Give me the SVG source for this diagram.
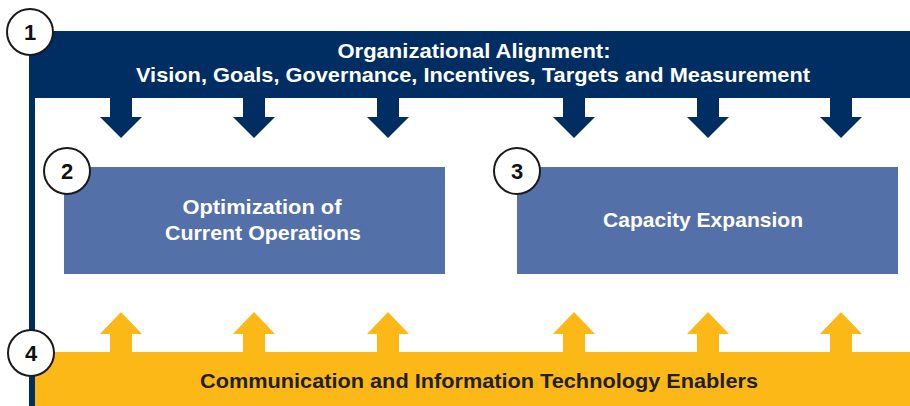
<svg xmlns="http://www.w3.org/2000/svg" width="910" height="406" viewBox="0 0 910 406">
<style>
.navy{fill:#002d62}
.blue{fill:#5470a8}
.gold{fill:#fbb817}
.circ{fill:#fff;stroke:#1a1a1a;stroke-width:2}
.num{font-family:"Liberation Sans",Arial,sans-serif;font-weight:bold;font-size:22px;fill:#111;text-anchor:middle}
.lbl{font-family:"Liberation Sans",Arial,sans-serif;font-weight:bold;font-size:20.5px;fill:#fff;text-anchor:middle}
.dark{fill:#231f20}
</style>
<defs>
<polygon id="down" points="-11,0 11,0 11,19 21,19 0,40 -21,19 -11,19"/>
<polygon id="up" points="-11,40 11,40 11,22 21,22 0,0 -21,22 -11,22"/>
</defs>
<g id="connectors">
<g class="navy">
<use href="#down" x="121" y="98"/>
<use href="#down" x="254" y="98"/>
<use href="#down" x="388" y="98"/>
<use href="#down" x="574" y="98"/>
<use href="#down" x="708" y="98"/>
<use href="#down" x="841" y="98"/>
</g>
<g class="gold">
<use href="#up" x="121" y="312"/>
<use href="#up" x="254" y="312"/>
<use href="#up" x="388" y="312"/>
<use href="#up" x="574" y="312"/>
<use href="#up" x="708" y="312"/>
<use href="#up" x="841" y="312"/>
</g>
</g>
<g id="node1">
<rect class="navy" x="29" y="31" width="881" height="67"/>
<rect class="navy" x="29" y="31" width="6" height="375"/>
<text class="lbl" x="474" y="58" textLength="273" lengthAdjust="spacingAndGlyphs">Organizational Alignment:</text>
<text class="lbl" x="473" y="82" textLength="674" lengthAdjust="spacingAndGlyphs">Vision, Goals, Governance, Incentives, Targets and Measurement</text>
<circle class="circ" cx="30" cy="32" r="23"/>
<text class="num" x="30" y="40">1</text>
</g>
<g id="node2">
<rect class="blue" x="64" y="167" width="381" height="107"/>
<text class="lbl" x="262" y="214" textLength="159" lengthAdjust="spacingAndGlyphs">Optimization of</text>
<text class="lbl" x="263" y="240" textLength="196" lengthAdjust="spacingAndGlyphs">Current Operations</text>
<circle class="circ" cx="67" cy="171" r="23"/>
<text class="num" x="67" y="179">2</text>
</g>
<g id="node3">
<rect class="blue" x="517" y="167" width="381" height="107"/>
<text class="lbl" x="703" y="227" textLength="200" lengthAdjust="spacingAndGlyphs">Capacity Expansion</text>
<circle class="circ" cx="517" cy="171" r="23"/>
<text class="num" x="517" y="179">3</text>
</g>
<g id="node4">
<rect class="gold" x="35" y="352" width="875" height="54"/>
<text class="lbl dark" x="479" y="388" textLength="558" lengthAdjust="spacingAndGlyphs">Communication and Information Technology Enablers</text>
<circle class="circ" cx="31" cy="353" r="23"/>
<text class="num" x="31" y="361">4</text>
</g>
</svg>
